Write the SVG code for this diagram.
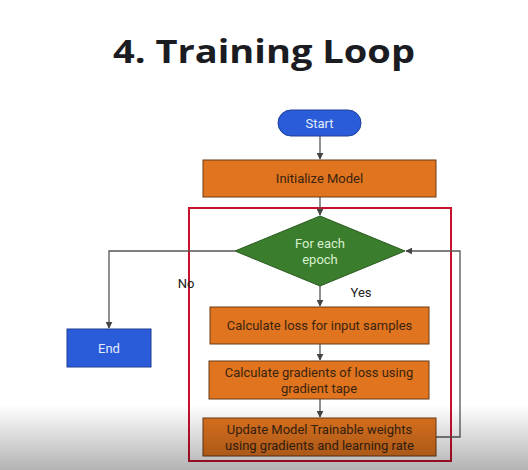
<svg xmlns="http://www.w3.org/2000/svg" width="528" height="470" viewBox="0 0 528 470">
<defs>
<marker id="arr" viewBox="0 0 10 10" refX="9" refY="5" markerWidth="7" markerHeight="7" orient="auto" markerUnits="userSpaceOnUse">
<path d="M0,0 L10,5 L0,10 z" fill="#444"/>
</marker>
<linearGradient id="shade" x1="0" y1="0" x2="0" y2="1">
<stop offset="0" stop-color="#000" stop-opacity="0"/>
<stop offset="1" stop-color="#000" stop-opacity="0.3"/>
</linearGradient>
<style>
.title{font-family:"Open Sans","Liberation Sans",sans-serif;font-weight:bold;font-size:33px;fill:#1b1c22;}
.lbl{font-family:Roboto,"Liberation Sans",sans-serif;font-size:13px;text-anchor:middle;}
.dark{fill:#3a2410;}
.light{fill:#e4ecff;}
.orange{fill:#e0741f;stroke:#6b3a14;stroke-width:1;}
.blue{fill:#2a5bd8;stroke:#1e3f94;stroke-width:1;}
.conn{fill:none;stroke:#555;stroke-width:1.3;}
</style>
</defs>
<rect width="528" height="470" fill="#ffffff"/>
<text class="title" x="113" y="63" textLength="302" lengthAdjust="spacingAndGlyphs">4. Training Loop</text>
<rect x="189" y="208" width="262" height="253" fill="none" stroke="#c8102e" stroke-width="2"/>
<g id="connectors">
<path class="conn" d="M320,136 L320,159" marker-end="url(#arr)"/>
<path class="conn" d="M320,197 L320,215" marker-end="url(#arr)"/>
<path class="conn" d="M235,251 L109,251 L109,328" marker-end="url(#arr)"/>
<path class="conn" d="M320,286 L320,306" marker-end="url(#arr)"/>
<path class="conn" d="M320,344 L320,360" marker-end="url(#arr)"/>
<path class="conn" d="M320,399 L320,417" marker-end="url(#arr)"/>
<path class="conn" d="M436,437 L460,437 L460,251 L406,251" marker-end="url(#arr)"/>
<text class="lbl" x="186" y="288" fill="#222">No</text>
<text class="lbl" x="361" y="297" fill="#222">Yes</text>
</g>
<g id="start">
<rect class="blue" x="278" y="110" width="83" height="26" rx="13"/>
<text class="lbl light" x="319.5" y="128">Start</text>
</g>
<g id="init">
<rect class="orange" x="203" y="160" width="233" height="37"/>
<text class="lbl dark" x="319.5" y="183">Initialize Model</text>
</g>
<g id="epoch">
<polygon points="320,216 405,251 320,286 235,251" fill="#3a7d2c" stroke="#2a5a20" stroke-width="1"/>
<text class="lbl" x="320" y="248" fill="#d8f0d0">For each</text>
<text class="lbl" x="320" y="264" fill="#d8f0d0">epoch</text>
</g>
<g id="end">
<rect class="blue" x="67" y="329" width="84" height="38"/>
<text class="lbl light" x="109" y="353">End</text>
</g>
<g id="loss">
<rect class="orange" x="210" y="307" width="219" height="37"/>
<text class="lbl dark" x="319.5" y="330">Calculate loss for input samples</text>
</g>
<g id="grad">
<rect class="orange" x="209" y="361" width="220" height="38"/>
<text class="lbl dark" x="319" y="377">Calculate gradients of loss using</text>
<text class="lbl dark" x="319" y="393">gradient tape</text>
</g>
<g id="update">
<rect class="orange" x="203" y="418" width="233" height="38"/>
<text class="lbl dark" x="319.5" y="434">Update Model Trainable weights</text>
<text class="lbl dark" x="319.5" y="450">using gradients and learning rate</text>
</g>
<rect x="0" y="405" width="528" height="65" fill="url(#shade)"/>
</svg>
